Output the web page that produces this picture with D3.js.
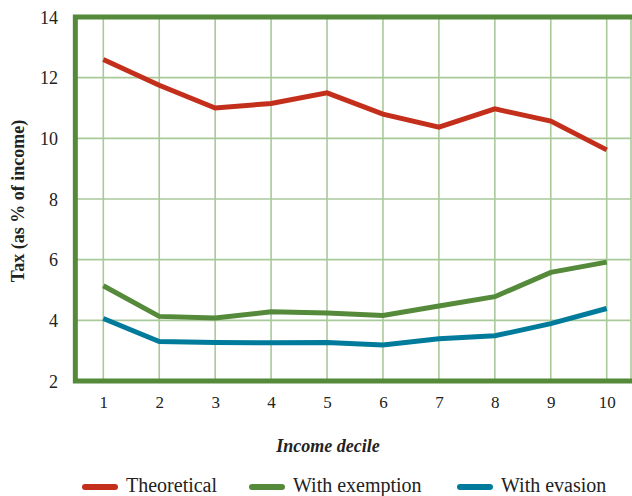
<!DOCTYPE html>
<html>
<head>
<meta charset="utf-8">
<script src="https://cdn.jsdelivr.net/npm/d3@7"></script>
<style>
  html, body { margin: 0; padding: 0; background: #ffffff; }
  svg { display: block; }
</style>
</head>
<body>
<svg id="chart" width="632" height="496"></svg>
<script>
// Tax burden by income decile, three scenarios
const deciles = [1, 2, 3, 4, 5, 6, 7, 8, 9, 10];
const theoretical   = [12.6, 11.75, 11.0, 11.15, 11.5, 10.8, 10.37, 10.97, 10.57, 9.62];
const withExemption = [5.14, 4.13, 4.08, 4.28, 4.24, 4.16, 4.47, 4.78, 5.58, 5.92];
const withEvasion   = [4.06, 3.30, 3.27, 3.26, 3.27, 3.19, 3.39, 3.49, 3.89, 4.39];
const yTicks = [2, 4, 6, 8, 10, 12, 14];
const seriesNames = ["Theoretical", "With exemption", "With evasion"];
const seriesColors = ["#c42f1b", "#548a3a", "#007b9b"];

const FONT = "'Liberation Serif', 'Times New Roman', serif";
const INK = "#222222";

const series = [theoretical, withExemption, withEvasion].map((vals, i) => ({
  name: seriesNames[i],
  color: seriesColors[i],
  values: vals.map((v, j) => ({ d: deciles[j], v }))
}));

const svg = d3.select("#chart");
const frameColor = "#548a3a";
const gridColor = "#a9c99b";

const x = d3.scaleLinear().domain([1, 10]).range([103.3, 606.7]);
const y = d3.scaleLinear().domain([2, 14]).range([381, 17]);
const left = x(0.5);
const right = 631;

// Gridlines
const grid = svg.append("g");
grid.selectAll("line.h").data(yTicks.slice(1, -1)).join("line")
  .attr("x1", left).attr("x2", right)
  .attr("y1", d => y(d)).attr("y2", d => y(d))
  .attr("stroke", gridColor).attr("stroke-width", 1.6);
grid.selectAll("line.v").data(deciles).join("line")
  .attr("x1", d => x(d)).attr("x2", d => x(d))
  .attr("y1", y(14)).attr("y2", y(2))
  .attr("stroke", gridColor).attr("stroke-width", 1.6);
grid.append("line")
  .attr("x1", right).attr("x2", right)
  .attr("y1", y(14)).attr("y2", y(2))
  .attr("stroke", gridColor).attr("stroke-width", 1.6);

// Series lines
const line = d3.line().x(p => x(p.d)).y(p => y(p.v));
svg.append("g").selectAll("path").data(series).join("path")
  .attr("d", s => line(s.values))
  .attr("fill", "none")
  .attr("stroke", s => s.color)
  .attr("stroke-width", 5)
  .attr("stroke-linejoin", "miter")
  .attr("stroke-linecap", "butt");

// Frame: top, left, bottom
svg.append("path")
  .attr("d", `M${right + 2},${y(14)} H${left} V${y(2)} H${right + 2}`)
  .attr("fill", "none")
  .attr("stroke", frameColor)
  .attr("stroke-width", 5)
  .attr("stroke-linejoin", "miter");

// Y axis tick labels
const yAxis = d3.axisLeft(y).tickValues(yTicks).tickSize(0).tickPadding(0);
const gy = svg.append("g").attr("transform", "translate(58,0)").call(yAxis);
gy.select(".domain").remove();
gy.selectAll("text")
  .style("font-family", FONT)
  .style("font-size", "18px")
  .style("fill", INK)
  .attr("dy", "0.34em");

// X axis tick labels
const xAxis = d3.axisBottom(x).tickValues(deciles).tickSize(0).tickPadding(0).tickFormat(d3.format("d"));
const gx = svg.append("g").attr("transform", "translate(0,396)").call(xAxis);
gx.select(".domain").remove();
gx.selectAll("text")
  .style("font-family", FONT)
  .style("font-size", "17px")
  .style("fill", INK)
  .attr("dy", "0.71em");

// Axis titles
svg.append("text")
  .attr("x", 328).attr("y", 452)
  .attr("text-anchor", "middle")
  .style("font-family", FONT)
  .style("font-size", "18px")
  .style("font-style", "italic")
  .style("font-weight", "bold")
  .style("fill", INK)
  .text("Income decile");

svg.append("text")
  .attr("transform", "translate(24,201) rotate(-90)")
  .attr("text-anchor", "middle")
  .style("font-family", FONT)
  .style("font-size", "18px")
  .style("font-weight", "bold")
  .style("fill", INK)
  .text("Tax (as % of income)");

// Legend
const legendX = [82, 249, 457];
const legend = svg.append("g").selectAll("g").data(series).join("g")
  .attr("transform", (s, i) => `translate(${legendX[i]},487)`);
legend.append("line")
  .attr("x1", 3).attr("x2", 33)
  .attr("stroke", s => s.color)
  .attr("stroke-width", 6)
  .attr("stroke-linecap", "round");
legend.append("text")
  .attr("x", 44).attr("y", 5)
  .style("font-family", FONT)
  .style("font-size", "20px")
  .style("fill", INK)
  .text(s => s.name);
</script>
</body>
</html>
